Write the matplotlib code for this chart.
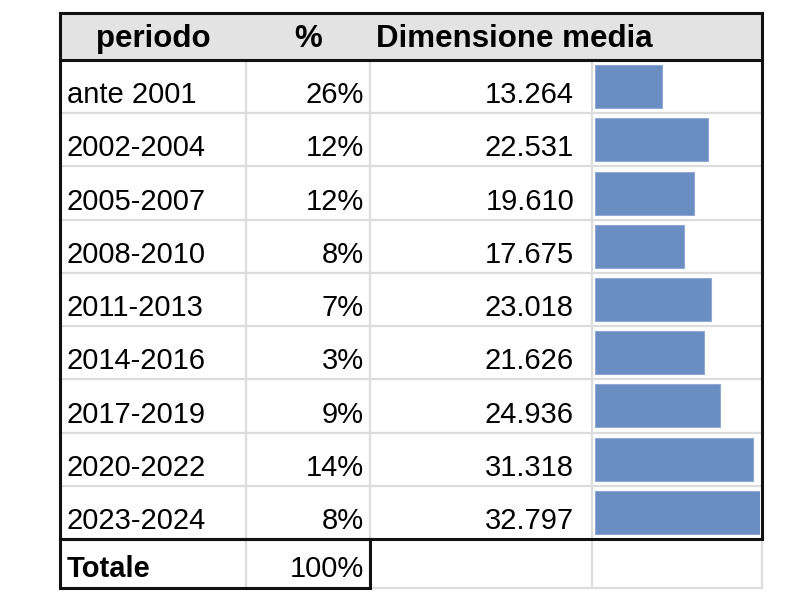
import numpy as np
import matplotlib.pyplot as plt

plt.rcParams['font.family'] = ['Liberation Sans', 'DejaVu Sans']

periodi = ["ante 2001", "2002-2004", "2005-2007", "2008-2010", "2011-2013",
           "2014-2016", "2017-2019", "2020-2022", "2023-2024"]
perc = ["26%", "12%", "12%", "8%", "7%", "3%", "9%", "14%", "8%"]
dimensione = [13264, 22531, 19610, 17675, 23018, 21626, 24936, 31318, 32797]
intestazioni = ["periodo", "%", "Dimensione media"]
totale_label = "Totale"
totale_perc = "100%"

W, H = 800, 605
fig = plt.figure(figsize=(W / 100, H / 100), dpi=100)
ax = fig.add_axes([0, 0, 1, 1])
ax.set_xlim(0, W)
ax.set_ylim(H, 0)
ax.axis("off")

# griglia (pixel)
x0, x1, x2, x3, x4 = 60, 246, 370, 592, 762
y_top, y_head = 13, 60
n = len(periodi)
y_body_end = 539
y_tot_end = 588
righe = np.linspace(y_head, y_body_end, n + 1)

grigio = "#dcdcdc"
nero = "#111111"

# sfondo intestazione
ax.fill_between([x0, x4], y_top, y_head, color="#e3e3e3", zorder=0)

# linee grigie
for y in righe[1:-1]:
    ax.plot([x0, x4], [y, y], color=grigio, lw=1.6, zorder=1)
for x in (x1, x2, x3):
    ax.plot([x, x], [y_head, y_tot_end], color=grigio, lw=1.6, zorder=1)
ax.plot([x4, x4], [y_body_end, y_tot_end], color=grigio, lw=1.6, zorder=1)
ax.plot([x2, x4], [y_tot_end, y_tot_end], color=grigio, lw=1.6, zorder=1)

# bordi neri
ax.plot([x0, x4, x4, x0, x0], [y_top, y_top, y_body_end, y_body_end, y_top],
        color=nero, lw=2.2, zorder=5, solid_joinstyle="miter")
ax.plot([x0, x4], [y_head, y_head], color=nero, lw=2.2, zorder=5)
ax.plot([x0, x2, x2, x0, x0], [y_body_end, y_body_end, y_tot_end, y_tot_end, y_body_end],
        color=nero, lw=2.2, zorder=5, solid_joinstyle="miter")

# intestazioni
yh = 47
ax.text(153, yh, intestazioni[0], fontsize=22.5, fontweight="bold", ha="center", va="baseline")
ax.text(308, yh, intestazioni[1], fontsize=22.5, fontweight="bold", ha="center", va="baseline")
ax.text(376, yh, intestazioni[2], fontsize=22.5, fontweight="bold", ha="left", va="baseline")

# righe dati
fs = 21
for i in range(n):
    yb = righe[i + 1] - 10
    ax.text(67, yb, periodi[i], fontsize=fs, ha="left", va="baseline")
    ax.text(364, yb, perc[i], fontsize=fs, ha="right", va="baseline")
    ax.text(574, yb, f"{dimensione[i]:,}".replace(",", "."), fontsize=fs, ha="right", va="baseline")

ax.text(67, y_tot_end - 11, totale_label, fontsize=fs, fontweight="bold", ha="left", va="baseline")
ax.text(364, y_tot_end - 11, totale_perc, fontsize=fs, ha="right", va="baseline")

# barre dati
bx0, bx1 = 595, 760
axb = fig.add_axes([bx0 / W, 1 - y_body_end / H, (bx1 - bx0) / W, (y_body_end - y_head) / H])
axb.barh(np.arange(n), dimensione, height=0.81, color="#6a8dc2", edgecolor="#8fa9d3", lw=0.8)
axb.set_xlim(0, max(dimensione))
axb.set_ylim(n - 0.5, -0.5)
axb.axis("off")

fig.savefig("out.png", dpi=100)
